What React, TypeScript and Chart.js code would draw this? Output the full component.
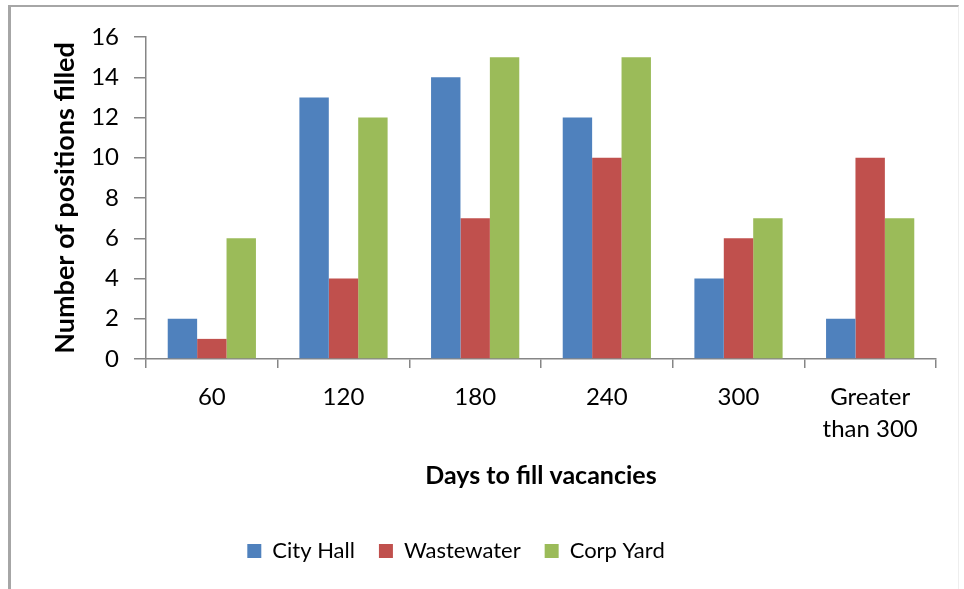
import React, { useEffect, useRef } from "react";
import { Chart, registerables } from "chart.js";

Chart.register(...registerables);

const categories: (string | string[])[] = ["60", "120", "180", "240", "300", ["Greater", "than 300"]];
const cityHall = [2, 13, 14, 12, 4, 2];
const wastewater = [1, 4, 7, 10, 6, 10];
const corpYard = [6, 12, 15, 15, 7, 7];
const yTicks = { min: 0, max: 16, step: 2 };

const FONT = "Lato, 'Open Sans', sans-serif";
const AXIS = "#868686";

const legendShift = {
  id: "legendShift",
  afterLayout(chart: any) {
    const lg = chart.legend;
    if (lg) {
      lg.left -= 32;
      lg.right -= 32;
    }
  },
};

export default function App() {
  const ref = useRef<HTMLCanvasElement | null>(null);
  useEffect(() => {
    if (!ref.current) return;
    const chart = new Chart(ref.current, {
      type: "bar",
      data: {
        labels: categories,
        datasets: [
          { label: "City Hall", data: cityHall, backgroundColor: "#4F81BD" },
          { label: "Wastewater", data: wastewater, backgroundColor: "#C0504D" },
          { label: "Corp Yard", data: corpYard, backgroundColor: "#9BBB59" },
        ],
      },
      plugins: [legendShift],
      options: {
        animation: false,
        responsive: false,
        maintainAspectRatio: false,
        layout: { padding: { left: 40, right: 28, top: 37, bottom: 17 } },
        datasets: { bar: { categoryPercentage: 0.67, barPercentage: 1 } },
        plugins: {
          tooltip: { enabled: false },
          legend: {
            position: "bottom",
            labels: {
              boxWidth: 14,
              boxHeight: 14,
              padding: 24,
              color: "#000",
              font: { family: FONT, size: 22 },
            },
          },
        },
        scales: {
          x: {
            afterFit: (s: any) => { s.height = 157; },
            grid: { display: true, drawOnChartArea: false, offset: true, tickLength: 9, color: AXIS, lineWidth: 1.5 },
            border: { color: AXIS, width: 1.5 },
            ticks: { color: "#000", padding: 14, maxRotation: 0, font: { family: FONT, size: 24, lineHeight: 1.3 } },
            title: {
              display: true,
              text: "Days to fill vacancies",
              color: "#000",
              font: { family: FONT, size: 25, weight: "bold" },
              padding: { top: 0, bottom: 25 },
            },
          },
          y: {
            min: yTicks.min,
            max: yTicks.max,
            afterFit: (s: any) => { s.width = 106; },
            grid: { display: true, drawOnChartArea: false, tickLength: 12, color: AXIS, lineWidth: 1.5 },
            border: { color: AXIS, width: 1.5 },
            ticks: { stepSize: yTicks.step, color: "#000", padding: 15, font: { family: FONT, size: 24 } },
            title: {
              display: true,
              text: "Number of positions filled",
              color: "#000",
              font: { family: FONT, size: 27, weight: "bold" },
              padding: { top: 9, bottom: 0 },
            },
          },
        },
      },
    });
    return () => chart.destroy();
  }, []);
  return (
    <div style={{ position: "fixed", left: 0, top: 0, width: 964, height: 589, background: "#fff", overflow: "hidden" }}>
      <div
        style={{
          position: "absolute",
          left: 8,
          top: 5,
          width: 951,
          height: 600,
          borderLeft: "3px solid #a6a6a6",
          borderTop: "2px solid #a6a6a6",
          borderRight: "1px solid #eeeeee",
          boxSizing: "border-box",
        }}
      />
      <canvas ref={ref} width={964} height={589} style={{ position: "absolute", left: 0, top: 0 }} />
    </div>
  );
}
